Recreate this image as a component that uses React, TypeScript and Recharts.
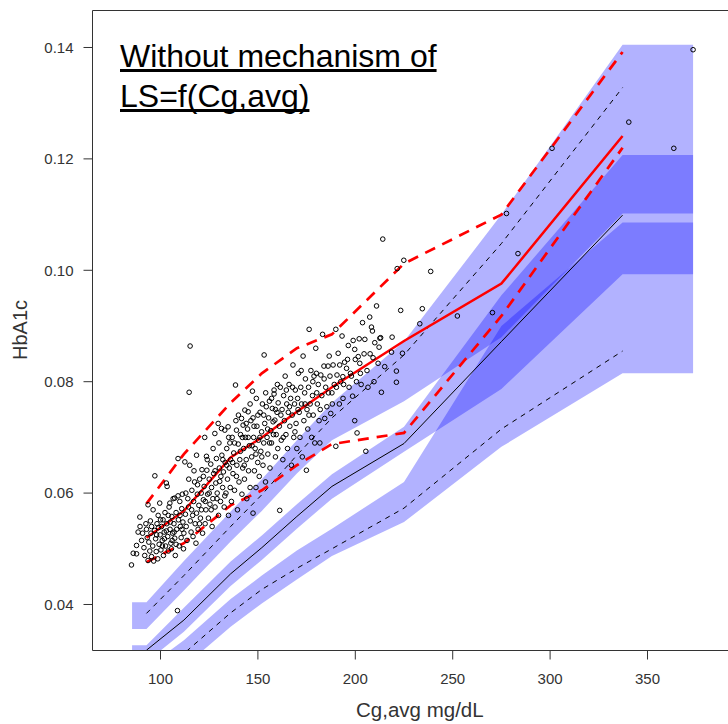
import React from "react";
import { ComposedChart, Area, Line, Scatter, XAxis, YAxis } from "recharts";

// bin positions (Cg,avg mg/dL); ends are band-only (flat extensions)
const binX = [85.4, 92.8, 112, 136, 152, 170, 188, 225, 275, 337.2, 373.4];

// CI of simulated 95th percentile
const upperLo = [0.0356, 0.0356, 0.0425, 0.0513, 0.0568, 0.0635, 0.0695, 0.0765, 0.088, 0.1102, 0.1102];
const upperHi = [0.0404, 0.0404, 0.0478, 0.0567, 0.0625, 0.0695, 0.0762, 0.0872, 0.11, 0.1405, 0.1405];
// CI of simulated median
const medLo = [0.0297, 0.0297, 0.0351, 0.0433, 0.048, 0.0536, 0.059, 0.0674, 0.0787, 0.0993, 0.0993];
const medHi = [0.0327, 0.0327, 0.0394, 0.0477, 0.0524, 0.058, 0.0634, 0.0719, 0.0955, 0.1207, 0.1207];
// CI of simulated 5th percentile
const lowerLo = [0.0238, 0.0238, 0.0288, 0.036, 0.0402, 0.0445, 0.0487, 0.0548, 0.0683, 0.0815, 0.0815];
const lowerHi = [0.0286, 0.0286, 0.0336, 0.041, 0.0452, 0.0497, 0.0536, 0.062, 0.09, 0.1086, 0.1086];

// simulated percentiles
const sim95 = [null, 0.0384, 0.0452, 0.054, 0.0597, 0.0668, 0.0735, 0.0848, 0.1048, 0.1328, null];
const sim50 = [null, 0.0318, 0.0372, 0.0455, 0.0502, 0.0558, 0.0612, 0.0689, 0.0872, 0.1099, null];
const sim05 = [null, 0.0262, 0.0312, 0.0385, 0.0427, 0.0465, 0.05, 0.0573, 0.0715, 0.0855, null];
// observed percentiles
const obs95 = [null, 0.0581, 0.067, 0.0762, 0.0815, 0.086, 0.0885, 0.1012, 0.11, 0.1392, null];
const obs50 = [null, 0.052, 0.0568, 0.0664, 0.07, 0.0746, 0.079, 0.0873, 0.0976, 0.1241, null];
const obs05 = [null, 0.0476, 0.051, 0.0578, 0.0605, 0.065, 0.0688, 0.0708, 0.0918, 0.122, null];

// observed data points [Cg,avg, HbA1c]
const observed: number[][] = [
  [85.1,0.0471],[86.0,0.0492],[87.7,0.0491],[87.7,0.0506],[89.4,0.0557],[88.5,0.053],[89.5,0.054],[90.3,0.0515],[90.8,0.0528],[91.5,0.0502],[91.9,0.0488],[92.5,0.0545],[92.8,0.0535],[93.2,0.052],[93.6,0.0479],[93.6,0.0579],[94.0,0.0512],[94.5,0.0496],[94.8,0.055],[95.1,0.0528],[95.4,0.0486],[95.4,0.054],
  [96.2,0.057],[96.0,0.0505],[96.5,0.0478],[97.1,0.0631],[97.0,0.0533],[97.5,0.0518],[97.8,0.0495],[98.2,0.0545],[98.6,0.0482],[98.8,0.056],[99.3,0.0508],[99.6,0.0582],[99.8,0.0525],[100.2,0.0498],[100.5,0.054],[100.9,0.0515],[101.3,0.0552],[101.5,0.0488],[101.9,0.053],[102.3,0.0565],[102.6,0.0505],[103.0,0.0618],[103.4,0.0612],[103.2,0.0545],[103.7,0.0522],[104.0,0.0496],[104.4,0.0575],[104.8,0.0582],[104.9,0.0535],[105.3,0.051],[105.6,0.05],[105.8,0.0558],[106.2,0.0528],[106.5,0.059],[106.9,0.0545],[107.3,0.0591],[107.3,0.0519],[107.6,0.0488],[108.0,0.0565],[108.3,0.0535],[108.7,0.0389],[109.0,0.0662],[109.2,0.0552],[109.6,0.0505],[109.9,0.0585],[110.2,0.054],[110.6,0.052],[110.9,0.0572],[111.2,0.0598],[111.5,0.0548],[111.8,0.05],[112.0,0.0528],
  [98.0,0.0525],[99.0,0.0538],[100.0,0.0552],[101.0,0.0505],[102.0,0.0518],[103.0,0.0532],[104.0,0.056],[105.0,0.0548],[106.0,0.0515],[107.0,0.053],[108.0,0.0508],[109.0,0.0595],[110.0,0.056],[111.0,0.0535],
  [112.5,0.0656],[112.8,0.0562],[113.2,0.054],[113.6,0.0515],[114.0,0.059],[114.4,0.0575],[114.7,0.0781],[115.0,0.065],[115.2,0.0864],[115.3,0.055],[115.7,0.053],[116.1,0.0605],[116.5,0.056],[116.7,0.0522],[117.0,0.0585],[117.5,0.062],[117.8,0.0545],[118.2,0.051],[118.5,0.0668],[118.5,0.0564],[118.9,0.0598],[119.3,0.0535],[119.7,0.0578],[120.1,0.0625],[120.5,0.0555],[120.9,0.06],[121.3,0.0642],[121.6,0.0528],[122.0,0.0588],[122.4,0.0612],[122.7,0.07],[122.9,0.0545],[123.3,0.057],[123.6,0.0666],[123.8,0.0641],[124.2,0.0598],[124.6,0.0555],[125.0,0.0625],[125.4,0.058],[125.8,0.0652],[126.2,0.061],[126.5,0.054],[126.9,0.059],[127.3,0.0635],[127.9,0.0707],[128.0,0.0575],[128.4,0.0618],[128.7,0.0662],[129.1,0.06],[129.6,0.0725],[129.8,0.056],[130.2,0.0645],[130.4,0.0621],[130.8,0.0585],[131.3,0.0716],[131.5,0.0668],[131.9,0.061],[132.3,0.0638],[132.7,0.0575],[133.0,0.0713],[133.2,0.0655],[133.6,0.06],[134.0,0.068],[134.4,0.0625],[134.7,0.0719],[134.9,0.056],[135.3,0.0645],[135.6,0.069],[135.8,0.061],[136.0,0.066],
  [113.0,0.06],[114.5,0.0625],[116.0,0.057],[117.2,0.064],[119.0,0.0615],[120.0,0.0545],[121.0,0.057],[122.0,0.063],[123.0,0.0585],[124.0,0.066],[125.0,0.06],[126.0,0.057],[127.0,0.068],[128.0,0.064],[129.0,0.059],[130.0,0.069],[131.0,0.063],[132.0,0.066],[133.0,0.0595],[134.0,0.065],[135.0,0.07],
  [136.4,0.0585],[136.8,0.07],[137.2,0.0635],[137.6,0.0672],[138.0,0.0605],[138.5,0.0794],[138.7,0.073],[139.0,0.0713],[139.2,0.065],[139.5,0.057],[139.9,0.0688],[140.3,0.062],[140.7,0.066],[141.1,0.0705],[141.6,0.0734],[141.8,0.0598],[142.2,0.0645],[142.4,0.0722],[142.7,0.068],[143.1,0.0625],[143.3,0.0749],[143.6,0.07],[144.0,0.066],[144.3,0.059],[144.7,0.0715],[145.0,0.0746],[145.2,0.064],[145.6,0.0685],[146.0,0.061],[146.4,0.073],[146.8,0.0665],[147.2,0.0783],[147.5,0.0564],[147.5,0.0735],[147.8,0.07],[148.2,0.064],[148.6,0.068],[149.0,0.061],[149.2,0.077],[149.5,0.072],[149.9,0.0655],[150.3,0.0695],[150.7,0.063],[151.1,0.0745],[151.5,0.0675],[151.9,0.071],[152.3,0.076],[152.6,0.065],[153.0,0.069],[153.2,0.0848],[153.5,0.0725],[153.9,0.062],[154.3,0.0755],[154.7,0.07],[155.1,0.067],[155.5,0.0735],[155.9,0.0765],[156.2,0.0645],[156.6,0.0712],[157.0,0.069],[157.4,0.0752],[157.8,0.0728],[158.3,0.0785],[158.3,0.0778],[158.7,0.0731],[159.0,0.0665],[159.4,0.0705],[159.8,0.0745],[160.2,0.068],[160.4,0.0762],[161.2,0.0569],
  [137.0,0.0655],[138.0,0.069],[139.0,0.063],[140.0,0.074],[141.0,0.0675],[142.0,0.07],[143.0,0.065],[144.0,0.0725],[145.0,0.07],[146.0,0.076],[147.0,0.0685],[148.0,0.072],[149.0,0.067],[150.0,0.074],[151.0,0.07],[152.0,0.0665],[153.0,0.074],[154.0,0.078],[155.0,0.0715],[156.0,0.069],[157.0,0.077],[158.0,0.0705],[159.0,0.075],[160.0,0.0795],
  [161.0,0.072],[161.5,0.079],[162.0,0.0695],[162.4,0.075],[162.8,0.066],[163.2,0.0775],[163.6,0.073],[164.0,0.081],[164.4,0.0705],[164.8,0.076],[165.2,0.068],[165.6,0.0745],[166.0,0.0795],[166.4,0.072],[166.8,0.077],[167.2,0.065],[167.6,0.074],[168.0,0.083],[168.4,0.07],[168.8,0.076],[169.2,0.0785],[169.6,0.0725],[170.0,0.068],[170.4,0.077],[170.8,0.0815],[171.2,0.0745],[171.6,0.07],[172.0,0.079],[172.4,0.076],[172.8,0.0665],[173.2,0.0846],[173.6,0.073],[174.0,0.078],[174.4,0.0805],[174.9,0.0641],[175.2,0.075],[175.6,0.0715],[176.0,0.079],[176.3,0.0894],[176.8,0.076],[177.2,0.082],[177.6,0.07],[178.0,0.0775],[178.4,0.074],[178.8,0.081],[179.2,0.069],[179.7,0.086],[180.0,0.0815],[180.5,0.076],[181.0,0.0795],[181.4,0.073],[181.8,0.069],[182.3,0.0812],[182.8,0.0775],[183.2,0.0885],[183.9,0.0828],[184.3,0.0734],[184.8,0.079],[185.4,0.0755],[186.0,0.0828],[186.6,0.0846],[187.0,0.081],[187.4,0.0743],[188.0,0.078],[188.6,0.083],[189.2,0.0795],
  [161.8,0.074],[163.0,0.07],[164.6,0.0785],[166.2,0.0755],[167.8,0.079],[169.0,0.071],[170.6,0.075],[172.2,0.082],[174.2,0.076],[176.2,0.074],[178.2,0.08],[180.2,0.078],[182.0,0.075],[184.0,0.0805],[186.2,0.078],[188.2,0.076],
  [190.0,0.0894],[190.0,0.0684],[190.6,0.0812],[191.2,0.0851],[191.8,0.076],[192.5,0.08],[193.2,0.0882],[193.6,0.0809],[193.7,0.077],[194.5,0.0835],[195.5,0.0824],[196.0,0.084],[196.8,0.079],[197.5,0.0815],[198.6,0.0774],[198.9,0.0874],[199.7,0.0858],[199.7,0.073],[200.6,0.08],[200.9,0.0708],[201.5,0.0845],[202.0,0.0877],[202.3,0.0833],[203.0,0.0795],[203.7,0.0906],[204.9,0.0876],[205.4,0.0675],[206.0,0.082],[207.4,0.0916],[207.6,0.085],[208.3,0.0898],[208.8,0.0891],[209.1,0.0843],[209.6,0.08],[210.9,0.0936],[211.7,0.0833],[212.2,0.0862],[212.6,0.0878],[213.0,0.0879],[213.4,0.0781],[214.1,0.1056],[215.1,0.0827],
  [190.3,0.079],[192.0,0.083],[194.0,0.0795],[196.4,0.0865],[198.0,0.081],[200.0,0.084],[202.6,0.0815],[204.5,0.085],[206.5,0.079],[210.0,0.087],
  [218.6,0.0853],[218.9,0.088],[221.1,0.0819],[221.1,0.0799],[221.5,0.1003],[223.3,0.0928],[224.2,0.0851],[224.9,0.1018],[233.1,0.0904],[234.4,0.0931],[238.7,0.0998],
  [252.4,0.0918],[270.4,0.0924],[277.6,0.1102],[283.5,0.103],[301.0,0.1219],[340.4,0.1266],[363.5,0.1219],[373.4,0.1396],
];

const xTicks = [100, 150, 200, 250, 300, 350];
const yTicks = [0.04, 0.06, 0.08, 0.1, 0.12, 0.14];
const xDomain = [65.09, 400.05];
const yDomain = [0.03174, 0.14664];

const table = binX.map((x, i) => ({
  x,
  upper: [upperLo[i], upperHi[i]],
  med: [medLo[i], medHi[i]],
  lower: [lowerLo[i], lowerHi[i]],
  sim95: sim95[i],
  sim50: sim50[i],
  sim05: sim05[i],
  obs95: obs95[i],
  obs50: obs50[i],
  obs05: obs05[i],
}));

const points = observed.map(([x, y]) => ({ x, y }));

const FONT = "'Liberation Sans', Arial, sans-serif";
const AX = "#333333";
const BLUE = "#0000FF";

const OpenCircle = (props: any) => {
  const { cx, cy } = props;
  if (cx == null || cy == null) return <g />;
  return <circle cx={cx} cy={cy} r={2.3} fill="none" stroke="#000" strokeWidth={1} />;
};

export default function App() {
  return (
    <div style={{ position: "absolute", left: 0, top: 0, width: 728, height: 724, overflow: "hidden", background: "#fff" }}>
      <ComposedChart
        width={760}
        height={724}
        data={table}
        margin={{ top: 0, right: 15, bottom: 0, left: 0 }}
      >
        <XAxis
          dataKey="x"
          type="number"
          domain={xDomain}
          allowDataOverflow
          ticks={xTicks}
          interval={0}
          tickSize={9}
          tickMargin={14}
          height={73.5}
          stroke={AX}
          tick={{ fill: AX, fontSize: 15, fontFamily: FONT }}
        />
        <XAxis
          xAxisId="top"
          orientation="top"
          dataKey="x"
          type="number"
          domain={xDomain}
          allowDataOverflow
          ticks={xTicks}
          interval={0}
          tickSize={9}
          height={10.5}
          stroke={AX}
          tick={false}
        />
        <YAxis
          type="number"
          domain={yDomain}
          allowDataOverflow
          ticks={yTicks}
          interval={0}
          tickSize={9}
          tickMargin={10}
          width={92.5}
          stroke={AX}
          tickFormatter={(v: number) => v.toFixed(2)}
          tick={{ fill: AX, fontSize: 15, fontFamily: FONT }}
        />
        <Area dataKey="upper" type="linear" stroke="none" fill={BLUE} fillOpacity={0.3} isAnimationActive={false} dot={false} activeDot={false} />
        <Area dataKey="med" type="linear" stroke="none" fill={BLUE} fillOpacity={0.3} isAnimationActive={false} dot={false} activeDot={false} />
        <Area dataKey="lower" type="linear" stroke="none" fill={BLUE} fillOpacity={0.3} isAnimationActive={false} dot={false} activeDot={false} />
        <Line dataKey="sim95" type="linear" stroke="#000" strokeWidth={1} strokeDasharray="5 5" dot={false} activeDot={false} isAnimationActive={false} />
        <Line dataKey="sim50" type="linear" stroke="#000" strokeWidth={1} dot={false} activeDot={false} isAnimationActive={false} />
        <Line dataKey="sim05" type="linear" stroke="#000" strokeWidth={1} strokeDasharray="5 5" dot={false} activeDot={false} isAnimationActive={false} />
        <Scatter data={points} dataKey="y" shape={OpenCircle} isAnimationActive={false} />
        <Line dataKey="obs95" type="linear" stroke="#FF0000" strokeWidth={2.7} strokeDasharray="11 8" dot={false} activeDot={false} isAnimationActive={false} />
        <Line dataKey="obs50" type="linear" stroke="#FF0000" strokeWidth={2.5} dot={false} activeDot={false} isAnimationActive={false} />
        <Line dataKey="obs05" type="linear" stroke="#FF0000" strokeWidth={2.7} strokeDasharray="11 8" dot={false} activeDot={false} isAnimationActive={false} />
      </ComposedChart>
      <div
        style={{
          position: "absolute",
          left: 120,
          top: 36,
          fontFamily: FONT,
          fontSize: 32,
          lineHeight: "40px",
          color: "#000",
          textDecoration: "underline",
          textDecorationThickness: "2.5px",
          textDecorationSkipInk: "none",
          whiteSpace: "pre",
        } as React.CSSProperties}
      >
        {"Without mechanism of\nLS=f(Cg,avg)"}
      </div>
      <div
        style={{
          position: "absolute",
          left: 356,
          top: 699,
          fontFamily: FONT,
          fontSize: 20.5,
          lineHeight: "22px",
          color: AX,
          whiteSpace: "pre",
        }}
      >
        Cg,avg mg/dL
      </div>
      <div
        style={{
          position: "absolute",
          left: 20,
          top: 330,
          fontFamily: FONT,
          fontSize: 20,
          lineHeight: "22px",
          color: AX,
          whiteSpace: "pre",
          transform: "translate(-50%, -50%) rotate(-90deg)",
        }}
      >
        HbA1c
      </div>
    </div>
  );
}
